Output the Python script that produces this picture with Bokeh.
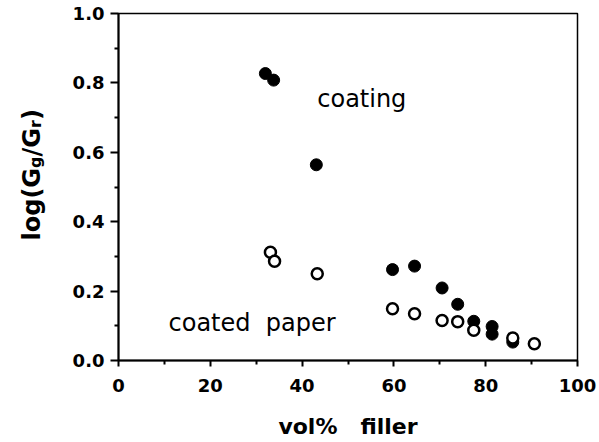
import math
from bokeh.plotting import figure
from bokeh.layouts import row
from bokeh.models import Range1d, Label, FixedTicker, PrintfTickFormatter, ColumnDataSource
from bokeh.embed import file_html
from bokeh.resources import INLINE

# data
coating_x = [32.0, 33.8, 43.1, 59.7, 64.5, 70.5, 73.9, 77.4, 81.4, 81.4, 85.9]
coating_y = [0.827, 0.808, 0.564, 0.262, 0.272, 0.209, 0.162, 0.113, 0.098, 0.076, 0.053]
paper_x = [33.1, 34.0, 43.3, 59.7, 64.5, 70.5, 73.9, 77.4, 85.9, 90.6]
paper_y = [0.312, 0.286, 0.250, 0.149, 0.135, 0.115, 0.112, 0.087, 0.065, 0.048]
x_ticks = [0, 20, 40, 60, 80, 100]
x_minor = [10, 30, 50, 70, 90]
y_ticks = [0.0, 0.2, 0.4, 0.6, 0.8, 1.0]
y_minor = [0.1, 0.3, 0.5, 0.7, 0.9]

FONT = "DejaVu Sans"
H = 442
LW = 60
TOP, BOTTOM = 13, 82

p = figure(width=598 - LW, height=H, output_backend="svg", toolbar_location=None,
           x_range=Range1d(0, 100), y_range=Range1d(0, 1.0),
           min_border_left=118 - LW, min_border_right=21, min_border_top=TOP, min_border_bottom=BOTTOM)
p.xgrid.visible = False
p.ygrid.visible = False
p.outline_line_color = "black"
p.outline_line_width = 1.5
p.background_fill_color = "white"
p.border_fill_color = "white"

for ax in (p.xaxis[0], p.yaxis[0]):
    ax.axis_line_width = 2
    ax.axis_line_color = "black"
    ax.major_tick_line_width = 2
    ax.minor_tick_line_width = 2
    ax.major_tick_in = 0
    ax.minor_tick_in = 0
    ax.major_label_text_font = FONT
    ax.major_label_text_font_style = "bold"
    ax.major_label_text_font_size = "18px"
    ax.major_label_text_color = "black"

p.xaxis.ticker = FixedTicker(ticks=x_ticks, minor_ticks=x_minor)
p.yaxis.ticker = FixedTicker(ticks=y_ticks, minor_ticks=y_minor)
p.yaxis.formatter = PrintfTickFormatter(format="%.1f")
p.xaxis.major_tick_out = 6
p.xaxis.minor_tick_out = 4
p.yaxis.major_tick_out = 8
p.yaxis.minor_tick_out = 4
p.xaxis.major_label_standoff = 12
p.yaxis.major_label_standoff = 6

p.xaxis.axis_label = "vol%\u00a0\u00a0\u00a0filler"
p.xaxis.axis_label_text_font = FONT
p.xaxis.axis_label_text_font_style = "bold"
p.xaxis.axis_label_text_font_size = "22px"
p.xaxis.axis_label_standoff = 19
p.xaxis.axis_label_text_color = "black"

src_c = ColumnDataSource(dict(x=coating_x, y=coating_y))
src_p = ColumnDataSource(dict(x=paper_x, y=paper_y))
p.scatter("x", "y", source=src_c, size=12, fill_color="black", line_color="black", line_width=1)
p.scatter("x", "y", source=src_p, size=11, fill_color="white", line_color="black", line_width=2.5)

# annotations
p.add_layout(Label(x=43.3, y=0.755, text="coating", text_font=FONT, text_font_size="24px",
                   text_color="black", text_baseline="alphabetic"))
p.add_layout(Label(x=10.9, y=0.108, text="coated\u00a0\u00a0paper", text_font=FONT, text_font_size="24px",
                   text_color="black", text_baseline="alphabetic"))

# y axis title with subscripts, drawn in a narrow side figure whose frame is
# aligned with the main frame; its ranges give 1 data unit = 1 px (y = H - page y)
lf = figure(width=LW, height=H, output_backend="svg", toolbar_location=None,
            x_range=Range1d(0, LW), y_range=Range1d(BOTTOM, H - TOP),
            x_axis_location=None, y_axis_location=None,
            min_border_left=0, min_border_right=0, min_border_top=TOP, min_border_bottom=BOTTOM)
lf.xgrid.visible = False
lf.ygrid.visible = False
lf.outline_line_color = None
lf.background_fill_color = "white"
lf.border_fill_color = "white"

title_parts = [("log(G", 24, 0, 0.0), ("g", 16, 4, 72.6), ("/G", 24, 0, 84.1),
               ("r", 16, 4, 112.6), (")", 24, 0, 120.5)]
base_x = 31.2
start_y = H - 240
for txt, fs, dx, dy in title_parts:
    lf.add_layout(Label(x=base_x + dx, y=start_y + dy, text=txt, angle=math.pi / 2,
                        text_font=FONT, text_font_style="bold", text_font_size=f"{fs}px",
                        text_color="black", text_align="left", text_baseline="alphabetic"))

layout = row(lf, p)
open("out.html", "w").write(file_html(layout, INLINE))
